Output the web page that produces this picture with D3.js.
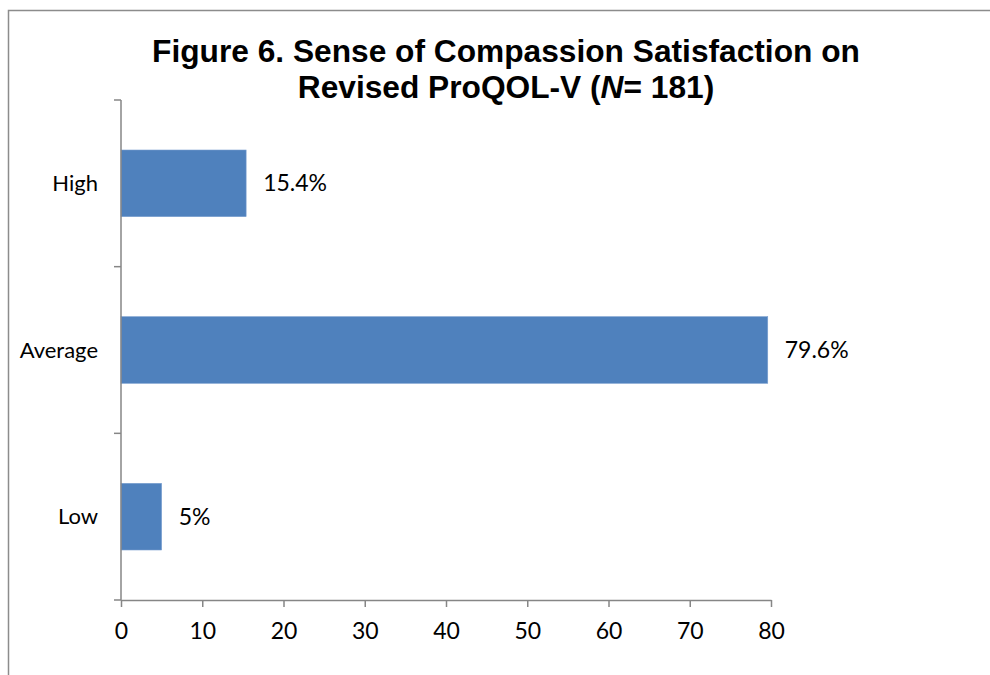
<!DOCTYPE html>
<html>
<head>
<meta charset="utf-8">
<script src="https://cdn.jsdelivr.net/npm/d3@7"></script>
<style>
  html, body { margin: 0; padding: 0; background: #fff; }
  svg { display: block; }
</style>
</head>
<body>
<svg id="chart" width="990" height="675"></svg>
<script>
// Compassion satisfaction levels (percent of respondents)
const categories = ["High", "Average", "Low"];
const values = [15.4, 79.6, 5];
const valueLabels = ["15.4%", "79.6%", "5%"];
const xTicks = [0, 10, 20, 30, 40, 50, 60, 70, 80];

const svg = d3.select("#chart");
const W = 990, H = 675;
const margin = { left: 121, right: 219, top: 100, bottom: 75 };
const axisColor = "#868686";
const barColor = "#4F81BD";
const labelFont = "Lato, 'Open Sans', sans-serif";

// outer frame
svg.append("path")
  .attr("d", `M8.5,${H} V10.5 H${W}`)
  .attr("fill", "none")
  .attr("stroke", "#8c8c8c")
  .attr("stroke-width", 1.5);

// title
const title = svg.append("text")
  .attr("x", 506)
  .attr("text-anchor", "middle")
  .attr("font-family", "Arial, 'Liberation Sans', sans-serif")
  .attr("font-weight", "bold")
  .attr("font-size", 31.7)
  .attr("fill", "#000");
title.append("tspan").attr("x", 506).attr("y", 62)
  .text("Figure 6. Sense of Compassion Satisfaction on");
const l2 = title.append("tspan").attr("x", 506).attr("y", 98);
l2.append("tspan").text("Revised ProQOL-V (");
l2.append("tspan").attr("font-style", "italic").text("N");
l2.append("tspan").text("= 181)");

const x = d3.scaleLinear()
  .domain([0, 80])
  .range([margin.left, W - margin.right]);

const y = d3.scaleBand()
  .domain(categories)
  .range([margin.top, H - margin.bottom])
  .paddingInner(0.6)
  .paddingOuter(0.3);

const data = categories.map((c, i) => ({ cat: c, v: values[i], label: valueLabels[i] }));

// bars
svg.append("g").selectAll("rect")
  .data(data)
  .join("rect")
  .attr("x", x(0))
  .attr("y", d => y(d.cat))
  .attr("width", d => x(d.v) - x(0))
  .attr("height", y.bandwidth())
  .attr("fill", barColor)
  .attr("stroke", "#7a9fd0")
  .attr("stroke-width", 0.6);

// value labels
svg.append("g").selectAll("text")
  .data(data)
  .join("text")
  .attr("x", d => x(d.v) + 17)
  .attr("y", d => y(d.cat) + y.bandwidth() / 2)
  .attr("dy", "0.35em")
  .attr("font-family", labelFont)
  .attr("font-size", 23)
  .attr("fill", "#000")
  .text(d => d.label);

// category axis: ticks at band boundaries
const yAxis = svg.append("g");
yAxis.append("line")
  .attr("x1", x(0)).attr("x2", x(0))
  .attr("y1", margin.top).attr("y2", H - margin.bottom)
  .attr("stroke", axisColor).attr("stroke-width", 1.5);
const step = y.step();
const bounds = d3.range(categories.length + 1).map(i => margin.top + i * step);
yAxis.selectAll("line.tk")
  .data(bounds)
  .join("line")
  .attr("class", "tk")
  .attr("x1", x(0) - 7).attr("x2", x(0))
  .attr("y1", d => d).attr("y2", d => d)
  .attr("stroke", axisColor).attr("stroke-width", 1.5);
yAxis.selectAll("text")
  .data(categories)
  .join("text")
  .attr("x", 98)
  .attr("y", d => y(d) + y.bandwidth() / 2)
  .attr("dy", "0.35em")
  .attr("text-anchor", "end")
  .attr("font-family", labelFont)
  .attr("font-size", 22)
  .attr("fill", "#000")
  .text(d => d);

// value axis
const xAxis = svg.append("g")
  .attr("transform", `translate(0,${H - margin.bottom})`)
  .call(d3.axisBottom(x).tickValues(xTicks).tickSize(7).tickPadding(16).tickSizeOuter(0));
xAxis.select(".domain").attr("stroke", axisColor).attr("stroke-width", 1.5);
xAxis.selectAll(".tick line").attr("stroke", axisColor).attr("stroke-width", 1.5);
xAxis.selectAll(".tick text")
  .attr("font-family", labelFont)
  .attr("font-size", 23)
  .attr("fill", "#000");
</script>
</body>
</html>
